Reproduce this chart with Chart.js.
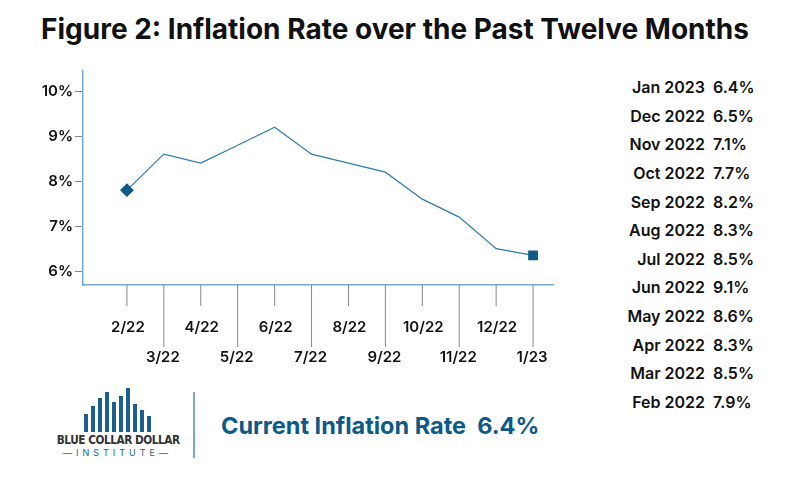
<!DOCTYPE html>
<html><head><meta charset="utf-8">
<script src="https://cdn.jsdelivr.net/npm/chart.js@4"></script>
<style>
body{margin:0;width:800px;height:500px;background:#fff;font-family:Inter,Roboto,sans-serif;position:relative;overflow:hidden}
#title{position:absolute;top:12px;left:0;width:790px;text-align:center;font-weight:700;font-size:28px;color:#111}
#wrap{position:absolute;left:40px;top:60px;width:530px;height:320px}
#tbl{position:absolute;left:578px;top:76px}
.row{display:flex;height:28.65px;font-size:16px;font-weight:600;color:#111;line-height:22px}
.row .m{width:127px;text-align:right}
.row .v{margin-left:8px}
#logo{position:absolute;left:50px;top:388px;width:135px;text-align:center;color:#333}
#bars{height:44px;display:flex;align-items:flex-end;justify-content:center;gap:3px}
#bars span{display:inline-block;width:4px;background:#1c5f8e}
#div{position:absolute;left:193px;top:392px;width:2px;height:66px;background:#7aa9cc}
#cur{position:absolute;left:221px;top:411px;font-size:23.5px;font-weight:700;color:#0b5a87}
</style></head><body>
<div id="title">Figure 2: Inflation Rate over the Past Twelve Months</div>
<div id="wrap"><canvas id="c"></canvas></div>
<div id="tbl"></div>
<div id="logo">
  <div id="bars"></div>
  <div style="font-family:'DejaVu Sans Condensed',sans-serif;font-size:13px;font-weight:700;white-space:nowrap;letter-spacing:-0.5px;transform:scaleX(0.9)">BLUE COLLAR DOLLAR</div>
  <div style="font-size:9px;letter-spacing:4px;color:#1c5f8e;white-space:nowrap">—INSTITUTE—</div>
</div>
<div id="div"></div>
<div id="cur">Current Inflation Rate&nbsp; 6.4%</div>
<script>
const months = ["2/22","3/22","4/22","5/22","6/22","7/22","8/22","9/22","10/22","11/22","12/22","1/23"];
const rates = [7.8, 8.6, 8.4, 8.8, 9.2, 8.6, 8.4, 8.2, 7.6, 7.2, 6.5, 6.35];
const yTicks = [6, 7, 8, 9, 10];
const tableMonths = ["Jan 2023","Dec 2022","Nov 2022","Oct 2022","Sep 2022","Aug 2022","Jul 2022","Jun 2022","May 2022","Apr 2022","Mar 2022","Feb 2022"];
const tableRates = ["6.4%","6.5%","7.1%","7.7%","8.2%","8.3%","8.5%","9.1%","8.6%","8.3%","8.5%","7.9%"];

const tbl = document.getElementById("tbl");
tableMonths.forEach((m, i) => {
  const r = document.createElement("div");
  r.className = "row";
  r.innerHTML = `<span class="m">${m}</span><span class="v">${tableRates[i]}</span>`;
  tbl.appendChild(r);
});
// simple logo mark
[18, 26, 34, 40, 30, 36, 44, 28, 22, 16].forEach(h => {
  const s = document.createElement("span");
  s.style.height = h + "px";
  document.getElementById("bars").appendChild(s);
});

// staggered month labels with leader lines below the x axis
const stagger = {
  id: "stagger",
  afterDraw(chart) {
    const ctx = chart.ctx, xs = chart.scales.x, top = chart.chartArea.bottom;
    ctx.save();
    ctx.font = "600 15px Inter, Roboto, sans-serif";
    ctx.textAlign = "center";
    ctx.textBaseline = "middle";
    months.forEach((m, i) => {
      const x = xs.getPixelForValue(i);
      const low = i % 2 === 1;
      ctx.strokeStyle = "#888";
      ctx.lineWidth = 1;
      ctx.beginPath();
      ctx.moveTo(x, top);
      ctx.lineTo(x, top + (low ? 62 : 21));
      ctx.stroke();
      ctx.fillStyle = "#111";
      ctx.fillText(m, x + (low ? -1 : 1), top + (low ? 72 : 42));
    });
    ctx.restore();
  }
};

new Chart(document.getElementById("c"), {
  type: "line",
  data: {
    datasets: [{
      data: rates.map((v, i) => ({ x: i, y: v })),
      borderColor: "#2f7cab",
      borderWidth: 1.2,
      tension: 0,
      pointStyle: rates.map((v, i) => i === 0 ? "rectRot" : (i === rates.length - 1 ? "rect" : "circle")),
      pointRadius: rates.map((v, i) => (i === 0 || i === rates.length - 1) ? 6 : 0),
      pointBackgroundColor: "#0d5a88",
      pointBorderColor: "#0d5a88"
    }]
  },
  options: {
    responsive: true,
    maintainAspectRatio: false,
    animation: false,
    layout: { padding: { top: 4, right: 17 } },
    plugins: { legend: { display: false }, tooltip: { enabled: false } },
    scales: {
      x: {
        type: "linear",
        min: -1.19,
        max: 11.54,
        ticks: { display: false },
        grid: { display: false },
        border: { color: "#7aa9cc", width: 1.5 },
        afterFit(s) { s.height = 95; }
      },
      y: {
        min: 5.69,
        max: 10.45,
        afterBuildTicks(s) { s.ticks = yTicks.map(v => ({ value: v })); },
        ticks: {
          callback: v => v + "%",
          color: "#111",
          font: { family: "Inter, Roboto, sans-serif", size: 15, weight: 600 },
          padding: 2
        },
        grid: { drawOnChartArea: false, tickLength: 8, color: "#888" },
        border: { color: "#7aa9cc", width: 1.5 },
        afterFit(s) { s.width = 43; }
      }
    }
  },
  plugins: [stagger]
});
</script>
</body></html>
